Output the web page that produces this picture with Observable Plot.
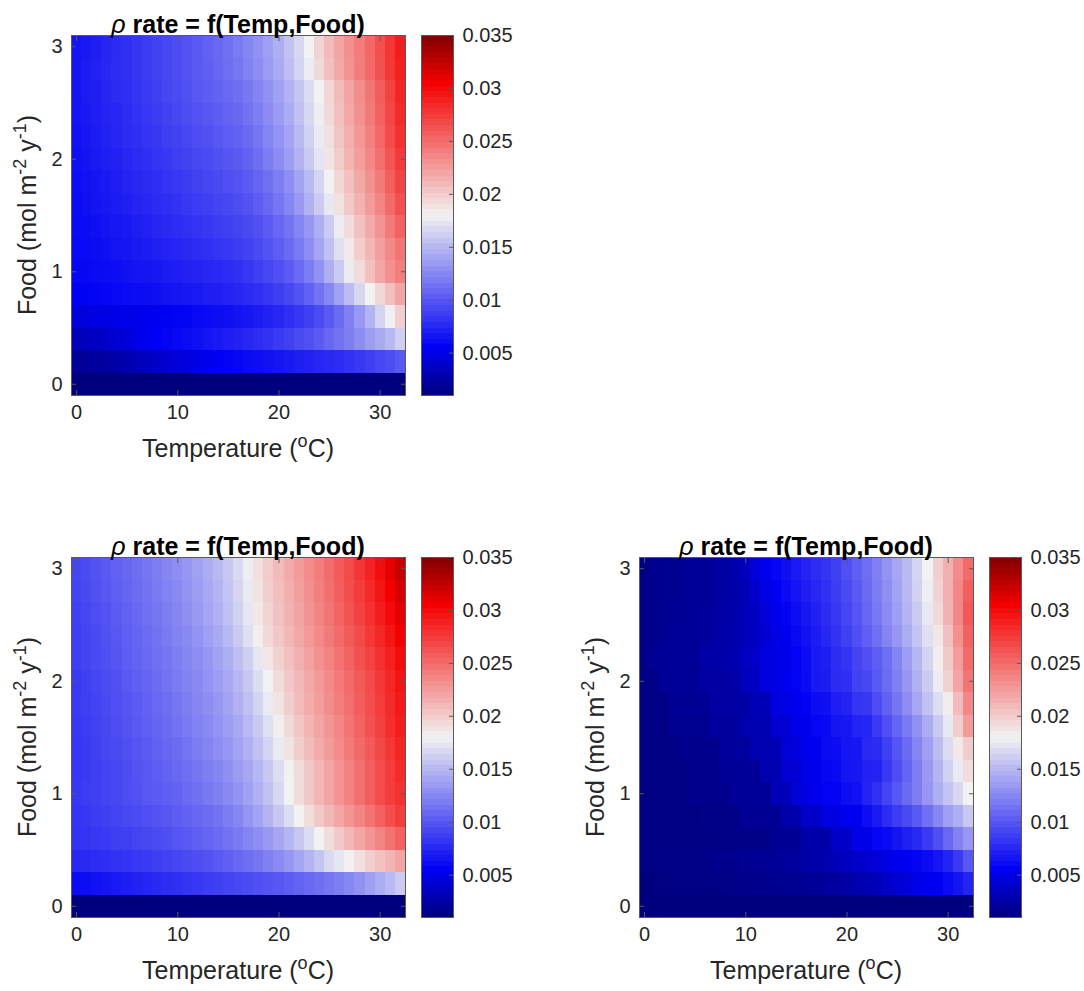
<!DOCTYPE html>
<html>
<head>
<meta charset="utf-8">
<script src="https://cdn.jsdelivr.net/npm/d3@7"></script>
<script src="https://cdn.jsdelivr.net/npm/@observablehq/plot@0.6"></script>
<style>
  html, body { margin: 0; padding: 0; background: #ffffff; }
  #root { position: relative; width: 1084px; height: 991px; overflow: hidden; font-family: "Liberation Sans", Arial, Helvetica, sans-serif; }
  .piece { position: absolute; }
  .piece svg { overflow: visible; max-width: none !important; display: block; }
</style>
</head>
<body>
<div id="root"></div>
<script>
// ---------------- data ----------------
const temperatures = [0,1,2,3,4,5,6,7,8,9,10,11,12,13,14,15,16,17,18,19,20,21,22,23,24,25,26,27,28,29,30,31,32];
const foods = [3.0,2.8,2.6,2.4,2.2,2.0,1.8,1.6,1.4,1.2,1.0,0.8,0.6,0.4,0.2,0.0]; // rows, top to bottom

// rho rate, in units of 0.001, one row per food level (top row = food 3.0)
const rateTopLeft = [
  [6.5,6.8,7.1,7.4,7.7,8.0,8.3,8.6,8.9,9.2,9.5,9.8,10.1,10.5,10.9,11.3,11.8,12.4,13.0,13.7,14.5,15.5,16.6,18.0,19.6,20.9,22.0,23.1,24.1,25.2,26.4,27.7,29.0],
  [6.6,6.9,7.2,7.5,7.8,8.0,8.3,8.6,8.9,9.2,9.5,9.8,10.1,10.4,10.8,11.2,11.6,12.2,12.8,13.5,14.3,15.3,16.4,17.7,19.3,20.6,21.8,22.9,24.0,25.1,26.3,27.6,28.9],
  [6.6,6.9,7.1,7.4,7.7,7.9,8.2,8.5,8.8,9.1,9.4,9.7,10.0,10.3,10.6,10.9,11.2,11.7,12.3,13.0,13.8,14.7,15.7,16.8,18.0,19.5,20.8,22.0,23.2,24.4,25.7,27.1,28.6],
  [6.5,6.8,7.0,7.3,7.5,7.8,8.1,8.4,8.6,8.9,9.2,9.5,9.8,10.0,10.3,10.6,10.9,11.4,12.0,12.7,13.5,14.4,15.4,16.6,17.8,19.3,20.6,21.8,23.0,24.2,25.5,26.9,28.3],
  [6.4,6.7,6.9,7.2,7.4,7.7,7.9,8.2,8.4,8.7,8.9,9.2,9.5,9.7,10.0,10.3,10.6,11.0,11.6,12.3,13.1,14.0,15.1,16.3,17.6,19.0,20.3,21.5,22.7,23.9,25.2,26.6,28.0],
  [6.3,6.5,6.8,7.0,7.2,7.5,7.7,7.9,8.2,8.4,8.7,8.9,9.2,9.4,9.7,9.9,10.2,10.6,11.2,11.9,12.7,13.6,14.7,15.9,17.3,18.7,20.0,21.2,22.4,23.6,24.8,26.1,27.5],
  [6.2,6.4,6.6,6.8,7.0,7.3,7.5,7.7,7.9,8.2,8.4,8.6,8.9,9.1,9.3,9.6,9.8,10.2,10.7,11.3,12.0,12.9,13.9,15.1,16.5,18.0,19.4,20.6,21.8,23.0,24.2,25.6,27.0],
  [6.1,6.3,6.5,6.7,6.9,7.1,7.3,7.5,7.7,7.9,8.1,8.4,8.6,8.8,9.0,9.2,9.5,9.8,10.3,10.9,11.6,12.4,13.4,14.6,16.0,17.5,18.9,20.1,21.3,22.5,23.7,25.0,26.3],
  [6.0,6.1,6.3,6.5,6.7,6.8,7.0,7.2,7.4,7.6,7.8,8.0,8.2,8.4,8.6,8.8,9.0,9.3,9.7,10.2,10.8,11.5,12.3,13.3,14.5,16.0,17.7,19.2,20.5,21.7,22.9,24.2,25.5],
  [5.9,6.0,6.2,6.3,6.5,6.6,6.8,6.9,7.1,7.3,7.4,7.6,7.8,8.0,8.2,8.4,8.6,8.9,9.3,9.8,10.3,11.0,11.8,12.8,14.0,15.4,17.0,18.5,19.9,21.1,22.3,23.4,24.5],
  [5.8,5.9,6.0,6.1,6.2,6.4,6.5,6.6,6.7,6.9,7.0,7.2,7.3,7.5,7.6,7.8,8.0,8.3,8.7,9.1,9.6,10.2,11.0,11.9,13.0,14.5,16.0,17.6,19.2,20.6,21.9,23.0,24.0],
  [5.5,5.6,5.7,5.8,5.9,6.0,6.1,6.2,6.3,6.5,6.6,6.7,6.8,7.0,7.1,7.3,7.5,7.7,8.0,8.3,8.7,9.2,9.8,10.5,11.4,12.5,13.8,15.2,16.6,18.0,19.4,20.7,22.0],
  [4.6,4.7,4.8,4.9,5.0,5.1,5.2,5.3,5.4,5.5,5.6,5.7,5.9,6.0,6.2,6.3,6.5,6.7,6.9,7.2,7.5,7.9,8.3,8.8,9.4,10.1,11.0,12.1,13.4,14.8,16.4,17.9,19.8],
  [3.2,3.4,3.6,3.9,4.2,4.5,5.0,5.4,5.5,5.7,5.9,6.1,6.3,6.6,6.8,7.0,7.2,7.5,7.8,8.1,8.5,8.8,9.3,9.7,10.2,10.8,11.4,12.0,12.8,13.6,14.3,15.0,16.2],
  [1.9,2.0,2.1,2.3,2.6,2.9,3.2,3.5,3.8,4.1,4.4,4.7,5.0,5.3,5.5,5.6,5.8,6.0,6.2,6.4,6.6,6.8,7.0,7.2,7.4,7.6,7.8,8.1,8.4,8.7,9.1,9.5,10.0],
  [1.0,1.0,1.0,1.0,1.0,1.0,1.0,1.0,1.0,1.0,1.0,1.0,1.0,1.0,1.0,1.0,1.0,1.0,1.0,1.0,1.0,1.0,1.0,1.0,1.0,1.0,1.0,1.0,1.0,1.0,1.0,1.0,1.0]
];

const rateBottomLeft = [
  [9.1,9.4,9.8,10.1,10.5,10.8,11.2,11.6,12.0,12.4,12.8,13.3,13.8,14.4,15.0,15.8,16.7,17.8,19.0,20.0,20.9,21.7,22.5,23.3,24.1,24.9,25.8,26.7,27.7,28.7,29.8,31.0,32.2],
  [9.0,9.3,9.7,10.0,10.4,10.7,11.1,11.4,11.8,12.2,12.6,13.1,13.6,14.2,14.8,15.6,16.5,17.6,18.8,19.8,20.7,21.5,22.3,23.1,23.9,24.7,25.6,26.5,27.4,28.4,29.4,30.5,31.6],
  [8.8,9.1,9.5,9.8,10.2,10.5,10.9,11.3,11.6,12.0,12.4,12.9,13.4,14.0,14.6,15.4,16.3,17.4,18.6,19.6,20.5,21.3,22.1,22.9,23.7,24.5,25.3,26.2,27.1,28.0,29.0,30.0,31.0],
  [8.7,9.0,9.3,9.7,10.0,10.4,10.7,11.1,11.4,11.8,12.2,12.6,13.1,13.7,14.3,15.0,15.9,17.0,18.2,19.3,20.2,21.0,21.8,22.6,23.4,24.2,25.0,25.8,26.7,27.6,28.5,29.4,30.4],
  [8.7,9.0,9.3,9.6,9.9,10.3,10.6,10.9,11.3,11.6,12.0,12.4,12.8,13.3,13.9,14.5,15.3,16.2,17.4,18.6,19.7,20.6,21.4,22.2,23.0,23.8,24.6,25.4,26.3,27.1,28.0,28.9,29.9],
  [8.5,8.8,9.1,9.4,9.7,10.1,10.4,10.7,11.1,11.4,11.8,12.2,12.6,13.1,13.6,14.2,14.9,15.8,16.9,18.0,19.2,20.2,21.0,21.8,22.6,23.4,24.2,25.0,25.9,26.7,27.6,28.5,29.5],
  [8.5,8.7,9.0,9.3,9.6,9.9,10.2,10.5,10.9,11.2,11.6,12.0,12.4,12.8,13.3,13.9,14.6,15.4,16.4,17.6,18.8,19.9,20.8,21.6,22.4,23.2,24.0,24.8,25.7,26.5,27.4,28.3,29.2],
  [8.4,8.6,8.9,9.2,9.5,9.8,10.1,10.4,10.7,11.0,11.4,11.8,12.2,12.6,13.1,13.6,14.2,15.0,15.9,17.0,18.2,19.3,20.3,21.2,22.0,22.8,23.6,24.5,25.4,26.3,27.2,28.1,29.0],
  [8.3,8.5,8.8,9.1,9.3,9.6,9.9,10.2,10.5,10.8,11.1,11.5,11.9,12.3,12.8,13.3,13.9,14.6,15.4,16.4,17.6,18.8,19.9,20.8,21.7,22.5,23.3,24.2,25.1,25.9,26.8,27.7,28.6],
  [8.3,8.5,8.7,9.0,9.2,9.5,9.8,10.0,10.3,10.6,10.9,11.2,11.6,12.0,12.4,12.9,13.5,14.1,14.9,15.8,16.9,18.1,19.2,20.2,21.1,22.0,22.9,23.8,24.7,25.6,26.5,27.4,28.3],
  [8.4,8.6,8.8,9.0,9.2,9.5,9.7,10.0,10.2,10.4,10.6,11.0,11.3,11.7,12.1,12.6,13.1,13.8,14.6,15.5,16.6,18.0,19.2,20.2,21.1,22.0,22.9,23.8,24.7,25.6,26.5,27.3,28.0],
  [8.2,8.4,8.6,8.8,9.0,9.2,9.4,9.6,9.8,10.0,10.3,10.5,10.8,11.1,11.5,11.9,12.4,13.2,13.9,14.8,15.8,16.9,18.0,19.1,20.1,21.0,21.9,22.8,23.7,24.6,25.5,26.4,27.3],
  [8.1,8.2,8.4,8.5,8.7,8.8,9.0,9.2,9.4,9.6,9.9,10.1,10.4,10.7,11.0,11.4,11.8,12.3,12.8,13.4,14.1,14.9,15.8,16.8,18.0,19.1,20.1,21.0,21.9,22.8,23.7,24.6,25.5],
  [7.5,7.6,7.8,7.9,8.1,8.2,8.4,8.5,8.7,8.9,9.1,9.3,9.5,9.8,10.1,10.4,10.8,11.2,11.6,12.1,12.7,13.3,14.0,14.8,15.7,16.7,17.4,18.1,19.0,19.8,20.5,21.2,22.0],
  [6.0,6.2,6.4,6.6,6.8,7.0,7.2,7.4,7.6,7.8,8.0,8.2,8.4,8.6,8.8,9.0,9.2,9.4,9.6,9.8,10.0,10.3,10.6,10.9,11.2,11.6,12.0,12.5,13.0,13.7,14.4,15.1,16.0],
  [1.0,1.0,1.0,1.0,1.0,1.0,1.0,1.0,1.0,1.0,1.0,1.0,1.0,1.0,1.0,1.0,1.0,1.0,1.0,1.0,1.0,1.0,1.0,1.0,1.0,1.0,1.0,1.0,1.0,1.0,1.0,1.0,1.0]
];

const rateBottomRight = [
  [1.3,1.5,1.6,1.7,1.8,1.9,2.0,2.2,2.4,2.8,3.4,4.4,5.2,5.8,6.3,6.8,7.3,7.8,8.2,8.8,9.6,10.4,11.2,12.1,13.1,14.1,15.1,16.4,18.0,19.8,21.4,23.3,25.0],
  [1.3,1.5,1.6,1.7,1.8,1.9,2.0,2.2,2.4,2.7,3.2,3.9,4.8,5.5,6.0,6.5,7.0,7.5,8.0,8.6,9.3,10.1,11.0,11.9,12.9,13.9,15.0,16.3,17.8,19.6,21.4,23.6,25.6],
  [1.3,1.5,1.7,1.8,1.9,2.0,2.1,2.3,2.5,2.8,3.2,3.7,4.4,5.2,5.7,6.2,6.7,7.2,7.8,8.4,9.1,9.9,10.8,11.7,12.7,13.7,14.8,16.0,17.5,19.3,21.3,23.6,26.0],
  [1.3,1.5,1.8,1.9,2.0,2.0,2.2,2.4,2.6,2.9,3.2,3.6,4.2,4.9,5.4,5.9,6.4,6.9,7.5,8.1,8.8,9.6,10.4,11.3,12.3,13.3,14.4,15.6,17.0,18.6,20.6,23.0,25.5],
  [1.3,1.8,2.0,2.0,2.0,2.0,2.5,2.6,2.7,3.0,3.5,3.8,4.7,4.9,5.3,5.6,6.1,6.8,7.0,7.8,8.2,9.0,9.6,10.3,11.2,12.3,13.6,14.9,16.4,18.2,20.1,22.4,25.0],
  [1.3,1.3,2.0,2.0,2.0,2.0,2.3,2.4,2.4,2.5,3.4,3.6,4.7,4.9,5.4,5.6,6.0,6.8,6.9,7.7,7.9,8.9,9.2,10.1,11.1,12.1,13.3,14.6,16.0,17.7,19.7,22.0,24.5],
  [1.2,1.2,1.3,1.8,1.8,1.8,1.9,2.4,2.4,2.4,2.5,3.2,3.3,4.7,4.9,5.4,5.6,6.2,6.3,7.0,7.3,8.2,8.4,9.5,10.5,11.6,12.8,14.1,15.5,16.9,18.3,20.8,23.5],
  [1.2,1.2,1.2,1.7,1.7,1.7,1.7,2.2,2.2,2.2,2.8,2.9,3.0,4.1,4.2,5.1,5.2,5.8,5.9,6.6,6.7,7.3,7.4,8.5,9.6,10.7,11.8,13.0,14.4,15.9,17.5,19.9,22.5],
  [1.2,1.2,1.2,1.3,1.5,1.5,1.5,1.6,2.1,2.1,2.1,2.8,2.9,3.0,4.4,4.5,5.2,5.3,6.0,6.1,6.6,6.7,7.6,7.7,8.8,9.9,11.0,12.3,13.7,15.2,16.8,18.5,20.0],
  [1.2,1.2,1.2,1.2,1.3,1.5,1.5,1.5,2.0,2.0,2.0,2.0,2.9,2.9,4.1,4.2,5.1,5.2,5.8,5.9,6.6,6.7,7.2,7.3,8.4,9.5,10.7,12.0,13.4,14.8,16.3,17.6,19.2],
  [1.2,1.2,1.2,1.2,1.2,1.5,1.5,1.5,1.5,2.0,2.0,2.0,2.0,3.2,3.3,4.4,4.8,5.2,5.6,5.7,6.2,6.4,7.3,8.0,9.0,10.0,11.0,12.0,13.3,14.5,15.6,16.6,18.0],
  [1.2,1.2,1.2,1.2,1.2,1.2,1.4,1.4,1.4,1.4,1.8,1.8,1.8,1.8,2.7,2.7,3.8,3.8,4.8,4.8,5.4,5.4,6.2,6.8,7.8,8.6,9.3,10.1,11.3,12.5,13.7,14.5,15.8],
  [1.2,1.2,1.2,1.2,1.2,1.2,1.2,1.2,1.4,1.4,1.4,1.4,1.4,1.8,1.8,1.8,2.7,2.7,2.7,3.8,3.8,5.1,5.1,5.8,6.0,6.6,7.1,7.6,8.5,9.6,10.9,12.2,13.3],
  [1.1,1.2,1.3,1.3,1.3,1.4,1.4,1.5,1.5,1.6,1.7,1.8,1.9,2.0,2.1,2.2,2.5,2.7,2.9,3.1,3.5,3.8,4.1,4.4,4.9,5.2,5.4,5.7,6.0,6.6,7.3,8.5,10.0],
  [1.0,1.1,1.1,1.2,1.2,1.2,1.3,1.3,1.3,1.4,1.5,1.5,1.6,1.6,1.7,1.7,1.9,2.0,2.1,2.2,2.4,2.8,3.0,3.3,3.8,4.1,4.5,5.1,5.4,5.5,6.0,6.6,7.3],
  [1.0,1.0,1.0,1.0,1.0,1.0,1.0,1.0,1.0,1.0,1.0,1.0,1.0,1.0,1.0,1.0,1.0,1.0,1.0,1.0,1.0,1.0,1.0,1.0,1.0,1.0,1.0,1.0,1.0,1.0,1.0,1.0,1.0]
];

const rateUnit = 0.001;
const xTicks = [0, 10, 20, 30];
const yTicks = [0, 1, 2, 3];
const colorTicks = [0.005, 0.01, 0.015, 0.02, 0.025, 0.03, 0.035];
const colorLimits = [0.001, 0.035];
const titleRest = " rate = f(Temp,Food)";
const titleGreek = "\u03C1";
const xLabelParts = [["Temperature (", false], ["o", true], ["C)", false]];
const yLabelParts = [["Food (mol m", false], ["-2", true], [" y", false], ["-1", true], [")", false]];

// ---------------- styling ----------------
const FONT = '"Liberation Sans", Arial, Helvetica, sans-serif';
const INK = "#262626";
const AXIS_STROKE = "#5a5a5a";
// MATLAB-like blue-white-red map: navy -> blue -> white (centre) -> red -> dark red
const mid = (colorLimits[0] + colorLimits[1]) / 2;
const half = (colorLimits[1] - colorLimits[0]) / 2;
const colorOpts = {
  type: "linear",
  domain: [colorLimits[0], mid - half * 0.735, mid, mid + half * 0.735, colorLimits[1]],
  range: ["#00007f", "#0000f4", "#f2f2f2", "#f40000", "#7f0000"],
  interpolate: "rgb",
  clamp: true
};

const PLOT_W = 334, PLOT_H = 360;
const M = {left: 71, top: 35, right: 10, bottom: 70};

const halfT = (temperatures[1] - temperatures[0]) / 2;
const halfF = Math.abs(foods[0] - foods[1]) / 2;
const xDomain = [d3.min(temperatures) - halfT, d3.max(temperatures) + halfT];
const yDomain = [d3.min(foods) - halfF, d3.max(foods) + halfF];

function addRichText(svg, {x, y, rotate = 0, size, weight = "normal", fill = INK, parts}) {
  const t = d3.select(svg).append("text")
    .attr("transform", `translate(${x},${y}) rotate(${rotate})`)
    .attr("text-anchor", "middle")
    .attr("font-family", FONT)
    .attr("font-size", size)
    .attr("font-weight", weight)
    .attr("fill", fill);
  let raised = false;
  const shift = size * 0.42;
  parts.forEach(p => {
    const s = t.append("tspan").text(p.text);
    if (p.italic) s.attr("font-style", "italic");
    if (p.weight) s.attr("font-weight", p.weight);
    if (p.sup && !raised) { s.attr("dy", -shift).attr("font-size", size * 0.72); raised = true; }
    else if (p.sup) { s.attr("font-size", size * 0.72); }
    else if (!p.sup && raised) { s.attr("dy", shift); raised = false; }
  });
}

function heatmap(matrix) {
  const cells = [];
  matrix.forEach((row, i) => row.forEach((v, j) => cells.push({t: temperatures[j], f: foods[i], v: v * rateUnit})));
  const svg = Plot.plot({
    width: M.left + PLOT_W + M.right,
    height: M.top + PLOT_H + M.bottom,
    marginLeft: M.left, marginRight: M.right, marginTop: M.top, marginBottom: M.bottom,
    style: {fontFamily: FONT, fontSize: "20px", color: INK, background: "transparent", overflow: "visible"},
    x: {domain: xDomain},
    y: {domain: yDomain},
    color: colorOpts,
    marks: [
      Plot.rect(cells, {
        x1: d => d.t - halfT, x2: d => d.t + halfT,
        y1: d => d.f - halfF, y2: d => d.f + halfF,
        fill: "v", shapeRendering: "crispEdges"
      }),
      Plot.frame({stroke: AXIS_STROKE, strokeWidth: 1}),
      Plot.axisX(xTicks, {anchor: "bottom", tickSize: -5, tickPadding: 14, fontSize: 20, label: null, stroke: AXIS_STROKE, fill: INK, tickFormat: d => String(d)}),
      Plot.axisX(xTicks, {anchor: "top", tickSize: -5, fill: "none", label: null, stroke: AXIS_STROKE}),
      Plot.axisY(yTicks, {anchor: "left", tickSize: -5, tickPadding: 14, fontSize: 20, label: null, stroke: AXIS_STROKE, fill: INK, tickFormat: d => String(d)}),
      Plot.axisY(yTicks, {anchor: "right", tickSize: -5, fill: "none", label: null, stroke: AXIS_STROKE})
    ]
  });
  const cx = M.left + PLOT_W / 2;
  addRichText(svg, {x: cx, y: M.top - 2, size: 25, weight: "bold", fill: "#000",
    parts: [{text: titleGreek, italic: true, weight: "normal"}, {text: titleRest}]});
  addRichText(svg, {x: cx, y: M.top + PLOT_H + 62, size: 25,
    parts: xLabelParts.map(([text, sup]) => ({text, sup}))});
  addRichText(svg, {x: 36, y: M.top + PLOT_H / 2, rotate: -90, size: 25,
    parts: yLabelParts.map(([text, sup]) => ({text, sup}))});
  return svg;
}

function colorbar() {
  const n = 64;
  const step = (colorLimits[1] - colorLimits[0]) / n;
  const levels = d3.range(n).map(k => ({lo: colorLimits[0] + k * step, hi: colorLimits[0] + (k + 1) * step, c: colorLimits[0] + (k + 0.5) * step}));
  return Plot.plot({
    width: 32 + 80,
    height: M.top + PLOT_H + M.bottom,
    marginLeft: 0, marginRight: 80, marginTop: M.top, marginBottom: M.bottom,
    style: {fontFamily: FONT, fontSize: "20px", color: INK, background: "transparent", overflow: "visible"},
    y: {domain: colorLimits},
    color: colorOpts,
    marks: [
      Plot.rect(levels, {y1: "lo", y2: "hi", fill: "c", shapeRendering: "crispEdges"}),
      Plot.frame({stroke: AXIS_STROKE, strokeWidth: 1}),
      Plot.axisY(colorTicks, {anchor: "right", tickSize: -5, tickPadding: 14, fontSize: 20, label: null,
        stroke: AXIS_STROKE, fill: INK, tickFormat: d => String(+d.toFixed(3))})
    ]
  });
}

const root = document.getElementById("root");
function place(el, left, top, width) {
  const div = document.createElement("div");
  div.className = "piece";
  div.style.left = left + "px";
  div.style.top = top + "px";
  div.style.width = width + "px";
  div.appendChild(el);
  root.appendChild(div);
}

const HM_W = M.left + PLOT_W + M.right;
place(heatmap(rateTopLeft), 0, 0, HM_W);
place(colorbar(), 421, 0, 112);
place(heatmap(rateBottomLeft), 0, 522, HM_W);
place(colorbar(), 421, 522, 112);
place(heatmap(rateBottomRight), 568, 522, HM_W);
place(colorbar(), 989, 522, 112);
</script>
</body>
</html>
